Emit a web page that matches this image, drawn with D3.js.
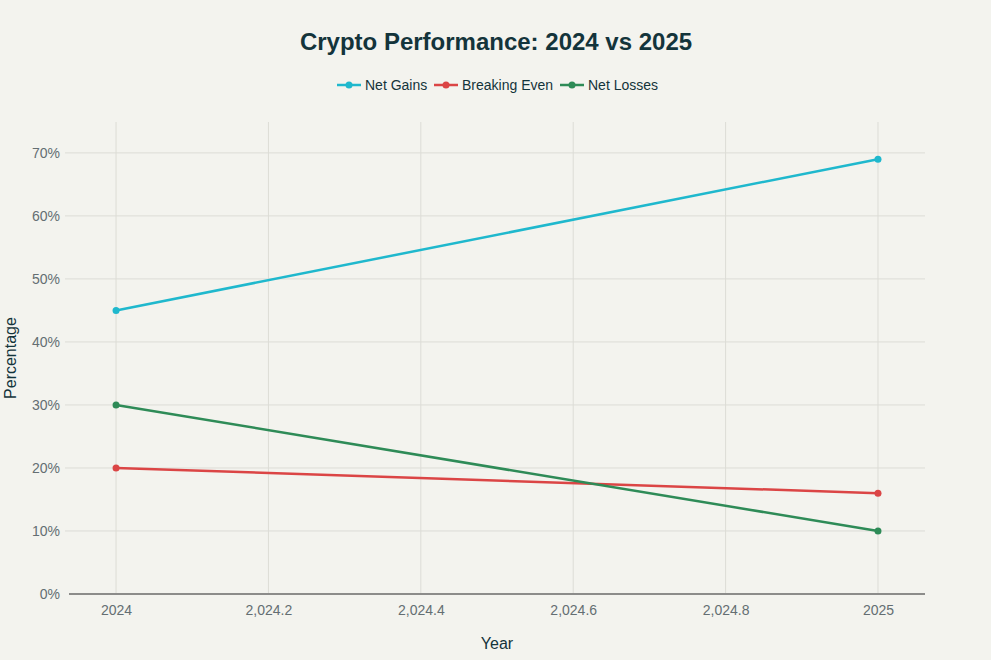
<!DOCTYPE html>
<html>
<head>
<meta charset="utf-8">
<script src="https://cdn.jsdelivr.net/npm/d3@7"></script>
<style>
  html, body { margin: 0; padding: 0; background: #F3F3EE; }
  svg { display: block; font-family: "Liberation Sans", Arial, sans-serif; }
</style>
</head>
<body>
<svg id="chart" width="991" height="660"></svg>
<script>
// data
var years = [2024, 2025];
var netGains = [45, 69];
var breakingEven = [20, 16];
var netLosses = [30, 10];
var seriesNames = ["Net Gains", "Breaking Even", "Net Losses"];
var seriesColors = ["#1FB8CD", "#DB4545", "#2E8B57"];
var xTicks = [2024, 2024.2, 2024.4, 2024.6, 2024.8, 2025];
var xTickLabels = ["2024", "2,024.2", "2,024.4", "2,024.6", "2,024.8", "2025"];
var yTicks = [0, 10, 20, 30, 40, 50, 60, 70];

var svg = d3.select("#chart"),
  plotLeft = 65, plotRight = 925, plotTop = 122, plotBottom = 594;

var x = d3.scaleLinear().domain([2023.933, 2025.0617]).range([plotLeft, plotRight]);
var y = d3.scaleLinear().domain([0, 74.9]).range([plotBottom, plotTop]);

svg.append("rect").attr("width", 991).attr("height", 660).attr("fill", "#F3F3EE");

// title
svg.append("text")
  .attr("x", 496).attr("y", 50)
  .attr("text-anchor", "middle")
  .attr("font-size", "24px")
  .attr("font-weight", "bold")
  .attr("fill", "#13343B")
  .text("Crypto Performance: 2024 vs 2025");

// grid
svg.append("g").selectAll("line").data(yTicks.filter(function (d) { return d > 0; }))
  .enter().append("line")
  .attr("x1", plotLeft).attr("x2", plotRight)
  .attr("y1", function (d) { return y(d); }).attr("y2", function (d) { return y(d); })
  .attr("stroke", "#DCDCD6").attr("stroke-width", 1);

svg.append("g").selectAll("line").data(xTicks)
  .enter().append("line")
  .attr("x1", function (d) { return x(d); }).attr("x2", function (d) { return x(d); })
  .attr("y1", plotTop).attr("y2", plotBottom)
  .attr("stroke", "#DCDCD6").attr("stroke-width", 1);

// zero line
svg.append("line")
  .attr("x1", plotLeft + 4).attr("x2", plotRight)
  .attr("y1", y(0)).attr("y2", y(0))
  .attr("stroke", "#8C8C8A").attr("stroke-width", 2);

// axes (labels only)
var yAxis = d3.axisLeft(y).tickValues(yTicks).tickSize(0).tickPadding(4)
  .tickFormat(function (d) { return d + "%"; });
var gy = svg.append("g").attr("transform", "translate(" + (plotLeft - 1) + ",0)").call(yAxis);
gy.select(".domain").remove();
gy.selectAll("text").attr("font-size", "14px").attr("fill", "#646E72")
  .attr("font-family", "Liberation Sans, Arial, sans-serif");

var xAxis = d3.axisBottom(x).tickValues(xTicks).tickSize(0).tickPadding(11)
  .tickFormat(function (d, i) { return xTickLabels[i]; });
var gx = svg.append("g").attr("transform", "translate(0," + plotBottom + ")").call(xAxis);
gx.select(".domain").remove();
gx.selectAll("text").attr("font-size", "14px").attr("fill", "#646E72")
  .attr("font-family", "Liberation Sans, Arial, sans-serif");

// axis titles
svg.append("text")
  .attr("x", 497).attr("y", 649)
  .attr("text-anchor", "middle")
  .attr("font-size", "16px").attr("fill", "#13343B")
  .text("Year");

svg.append("text")
  .attr("transform", "translate(16," + 358 + ") rotate(-90)")
  .attr("text-anchor", "middle")
  .attr("font-size", "16px").attr("fill", "#13343B")
  .text("Percentage");

// series
var allSeries = [netGains, breakingEven, netLosses];
var line = d3.line()
  .x(function (d, i) { return x(years[i]); })
  .y(function (d) { return y(d); });

allSeries.forEach(function (vals, k) {
  var g = svg.append("g");
  g.append("path").datum(vals)
    .attr("d", line)
    .attr("fill", "none")
    .attr("stroke", seriesColors[k])
    .attr("stroke-width", 2.5);
  g.selectAll("circle").data(vals).enter().append("circle")
    .attr("cx", function (d, i) { return x(years[i]); })
    .attr("cy", function (d) { return y(d); })
    .attr("r", 3.5)
    .attr("fill", seriesColors[k]);
});

// legend
var legendX = [337, 434, 560];
var leg = svg.append("g").attr("transform", "translate(0,85)");
seriesNames.forEach(function (name, k) {
  var lg = leg.append("g").attr("transform", "translate(" + legendX[k] + ",0)");
  lg.append("line").attr("x1", 0).attr("x2", 24).attr("y1", 0).attr("y2", 0)
    .attr("stroke", seriesColors[k]).attr("stroke-width", 2.5);
  lg.append("circle").attr("cx", 12).attr("cy", 0).attr("r", 3.5).attr("fill", seriesColors[k]);
  lg.append("text").attr("x", 28).attr("y", 5)
    .attr("font-size", "14px").attr("fill", "#13343B")
    .text(name);
});
</script>
</body>
</html>
